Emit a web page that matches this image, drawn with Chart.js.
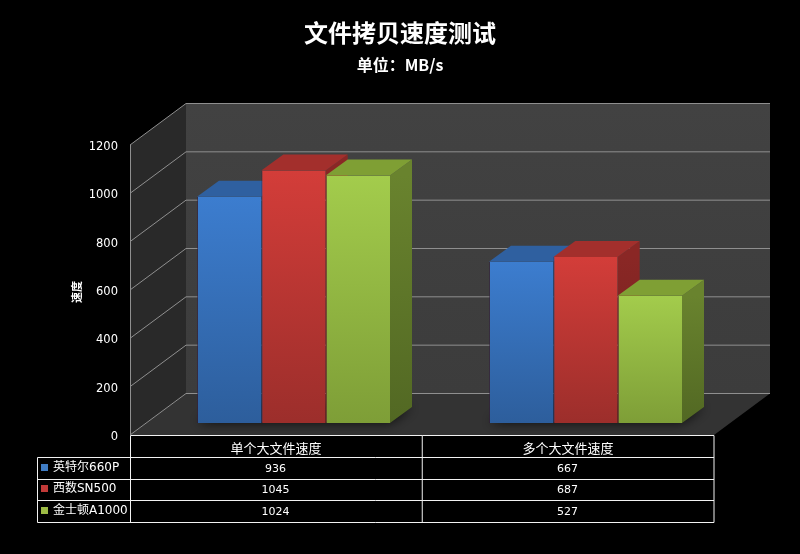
<!DOCTYPE html>
<html lang="zh">
<head>
    <meta charset="UTF-8">
    <title>文件拷贝速度测试</title>
    <script src="https://cdn.jsdelivr.net/npm/chart.js"></script>
    <style>
        html, body { margin: 0; padding: 0; background: #000; overflow: hidden; }
        canvas { display: block; }
    </style>
</head>
<body>
    <canvas id="speedChart" width="800" height="554"></canvas>

    <script>
        const chartTitle = '文件拷贝速度测试';
        const chartSubtitle = '单位：MB/s';
        const axisTitle = '速度';
        const categories = ['单个大文件速度', '多个大文件速度'];
        const seriesNames = ['英特尔660P', '西数SN500', '金士顿A1000'];
        const intelValues = [936, 667];
        const wdValues = [1045, 687];
        const kingstonValues = [1024, 527];
        const tickValues = [0, 200, 400, 600, 800, 1000, 1200];

        const CJK = '"Noto Sans CJK SC", sans-serif';
        const LATIN = '"DejaVu Sans", sans-serif';

        // front = lit top of the face, frontLow = its foot
        const palette = [
            { front: '#3c7dcf', frontLow: '#2d5e9c', top: '#2f60a0', side: '#27507f', sideLow: '#213f66', key: '#3f7cc4' },
            { front: '#d33d39', frontLow: '#9c2e2b', top: '#a32f2c', side: '#8a2725', sideLow: '#6c1f1d', key: '#c23a38' },
            { front: '#a3cc4c', frontLow: '#7e9e37', top: '#7f9f34', side: '#69832e', sideLow: '#526823', key: '#9dbb45' }
        ];

        // 3D box of the plot, relative to the plane the bars stand on
        const toFront = { x: -17.5, y: 12 };
        const toBack = { x: 38.5, y: -29.5 };
        const barDepth = { x: 22, y: -16 };

        function polygon(ctx, pts, fill) {
            ctx.beginPath();
            pts.forEach((p, i) => i ? ctx.lineTo(p[0], p[1]) : ctx.moveTo(p[0], p[1]));
            ctx.closePath();
            if (fill) {
                ctx.fillStyle = fill;
                ctx.fill();
            }
        }

        function segment(ctx, x0, y0, x1, y1) {
            ctx.beginPath();
            ctx.moveTo(x0, y0);
            ctx.lineTo(x1, y1);
            ctx.stroke();
        }

        const room3d = {
            id: 'room3d',
            beforeDatasetsDraw(chart) {
                const ctx = chart.ctx;
                const { left, right } = chart.chartArea;
                const y = chart.scales.y;
                const zero = y.getPixelForValue(0);
                const fl = left + toFront.x, fr = right + toFront.x;
                const bl = left + toBack.x, br = right + toBack.x;
                const topPx = y.getPixelForValue(y.max);

                ctx.save();

                // back wall, side wall, floor
                const wall = ctx.createLinearGradient(0, topPx + toBack.y, 0, zero + toBack.y);
                wall.addColorStop(0, '#424242');
                wall.addColorStop(1, '#3c3c3c');
                polygon(ctx, [[bl, topPx + toBack.y], [br, topPx + toBack.y], [br, zero + toBack.y], [bl, zero + toBack.y]], wall);
                polygon(ctx, [[fl, topPx + toFront.y], [bl, topPx + toBack.y], [bl, zero + toBack.y], [fl, zero + toFront.y]], '#292929');
                polygon(ctx, [[fl, zero + toFront.y], [fr, zero + toFront.y], [br, zero + toBack.y], [bl, zero + toBack.y]], '#333333');

                // gridlines run along the side wall and across the back wall
                ctx.strokeStyle = '#8f8f8f';
                ctx.lineWidth = 1;
                y.ticks.forEach(t => {
                    const py = y.getPixelForValue(t.value);
                    segment(ctx, fl, py + toFront.y, bl, py + toBack.y);
                    segment(ctx, bl, py + toBack.y, br, py + toBack.y);
                });
                segment(ctx, fl + 0.5, topPx + toFront.y, fl + 0.5, zero + toFront.y);

                // soft shadow at the foot of each bar group
                const metas = chart.getSortedVisibleDatasetMetas();
                categories.forEach((c, i) => {
                    const first = metas[0].data[i], last = metas[metas.length - 1].data[i];
                    const x0 = first.x - first.width / 2, x1 = last.x + last.width / 2;
                    ctx.save();
                    polygon(ctx, [[fl, zero + toFront.y], [fr, zero + toFront.y], [br, zero + toBack.y], [bl, zero + toBack.y]]);
                    ctx.clip();
                    ctx.shadowColor = 'rgba(0,0,0,0.75)';
                    ctx.shadowBlur = 12;
                    polygon(ctx, [[x0, zero], [x1, zero], [x1 + barDepth.x, zero + barDepth.y], [x0 + barDepth.x, zero + barDepth.y]], '#202020');
                    ctx.restore();
                });

                // side and top faces, series by series so later bars cover earlier ones
                metas.forEach((meta, s) => {
                    const col = palette[s];
                    meta.data.forEach(bar => {
                        const x1 = bar.x + bar.width / 2, x0 = bar.x - bar.width / 2;
                        const side = ctx.createLinearGradient(0, bar.y, 0, bar.base);
                        side.addColorStop(0, col.side);
                        side.addColorStop(1, col.sideLow);
                        polygon(ctx, [[x1, bar.y], [x1 + barDepth.x, bar.y + barDepth.y], [x1 + barDepth.x, bar.base + barDepth.y], [x1, bar.base]], side);
                        polygon(ctx, [[x0, bar.y], [x1, bar.y], [x1 + barDepth.x, bar.y + barDepth.y], [x0 + barDepth.x, bar.y + barDepth.y]], col.top);
                    });
                });

                ctx.restore();
            },

            afterDraw(chart) {
                const ctx = chart.ctx;
                const { left, right } = chart.chartArea;
                const y = chart.scales.y;
                const x = chart.scales.x;
                ctx.save();

                // titles
                ctx.fillStyle = '#fff';
                ctx.textAlign = 'center';
                ctx.textBaseline = 'middle';
                ctx.font = 'bold 24px ' + CJK;
                ctx.fillText(chartTitle, 400, 33);
                // TC font centres the full-width colon like the original
                ctx.font = 'bold 16px "Noto Sans CJK TC", sans-serif';
                ctx.fillText(chartSubtitle, 400, 65);

                // value axis labels sit on the front edge of the side wall
                ctx.textAlign = 'right';
                ctx.font = '11.5px ' + LATIN;
                y.ticks.forEach(t => {
                    ctx.fillText(t.label, 118, y.getPixelForValue(t.value) + toFront.y + 2);
                });

                ctx.save();
                ctx.translate(77, 292);
                ctx.rotate(-Math.PI / 2);
                ctx.textAlign = 'center';
                ctx.font = 'bold 11px ' + CJK;
                ctx.fillText(axisTitle, 0, 0);
                ctx.restore();

                // data table under the plot
                const tableLeft = 37.5, colLeft = left + toFront.x + 0.5, tableRight = right + toFront.x;
                const rowLines = [435.5, 457.5, 479.5, 500.5, 522.5];
                const colMid = colLeft + (tableRight - colLeft) / 2;
                const rows = [intelValues, wdValues, kingstonValues];

                ctx.strokeStyle = '#f2f2f2';
                ctx.lineWidth = 1;
                segment(ctx, colLeft, rowLines[0], tableRight, rowLines[0]);
                rowLines.slice(1).forEach(ly => segment(ctx, tableLeft, ly, tableRight, ly));
                segment(ctx, tableLeft, rowLines[1], tableLeft, rowLines[4]);
                segment(ctx, colLeft, rowLines[0], colLeft, rowLines[4]);
                segment(ctx, colMid, rowLines[0], colMid, rowLines[4]);
                segment(ctx, tableRight, rowLines[0], tableRight, rowLines[4]);

                ctx.fillStyle = '#fff';
                ctx.textAlign = 'center';
                ctx.font = '13px ' + CJK;
                categories.forEach((c, i) => {
                    ctx.fillText(c, x.getPixelForValue(i) + toFront.x, 448);
                });

                rows.forEach((values, r) => {
                    const mid = (rowLines[r + 1] + rowLines[r + 2]) / 2;
                    ctx.fillStyle = palette[r].key;
                    ctx.fillRect(41, Math.round(mid) - 5, 7, 7);
                    ctx.fillStyle = '#fff';
                    ctx.textAlign = 'left';
                    ctx.font = '12px "DejaVu Sans", "Noto Sans CJK SC", sans-serif';
                    ctx.fillText(seriesNames[r], 53, mid - 1);
                    ctx.textAlign = 'center';
                    ctx.font = '11px ' + LATIN;
                    values.forEach((v, i) => {
                        ctx.fillText(v, x.getPixelForValue(i) + toFront.x - 0.5, mid + 0.5);
                    });
                });

                ctx.restore();
            }
        };

        function frontFace(s) {
            return function (context) {
                if (!context.parsed) return palette[s].front;
                const y = context.chart.scales.y;
                const y0 = y.getPixelForValue(context.parsed.y), y1 = y.getPixelForValue(0);
                if (!isFinite(y0) || !isFinite(y1)) return palette[s].front;
                const g = context.chart.ctx.createLinearGradient(0, y0, 0, y1);
                g.addColorStop(0, palette[s].front);
                g.addColorStop(1, palette[s].frontLow);
                return g;
            };
        }

        new Chart(document.getElementById('speedChart').getContext('2d'), {
            type: 'bar',
            data: {
                labels: categories,
                datasets: [
                    { label: seriesNames[0], data: intelValues, backgroundColor: frontFace(0) },
                    { label: seriesNames[1], data: wdValues, backgroundColor: frontFace(1) },
                    { label: seriesNames[2], data: kingstonValues, backgroundColor: frontFace(2) }
                ]
            },
            options: {
                responsive: false,
                animation: false,
                layout: { padding: { left: 147.5, right: 68.5, top: 133, bottom: 131 } },
                datasets: {
                    bar: {
                        barPercentage: 1,
                        categoryPercentage: 0.661,
                        borderWidth: { left: 1, right: 0, top: 0, bottom: 0 },
                        borderSkipped: false,
                        borderColor: 'rgba(50,30,60,0.55)'
                    }
                },
                plugins: { legend: { display: false }, tooltip: { enabled: false } },
                scales: {
                    x: { display: false },
                    y: {
                        display: false,
                        min: 0,
                        max: 1200,
                        afterBuildTicks: axis => { axis.ticks = tickValues.map(value => ({ value })); },
                        ticks: { callback: v => String(v) }
                    }
                }
            },
            plugins: [room3d]
        });
    </script>
</body>
</html>
